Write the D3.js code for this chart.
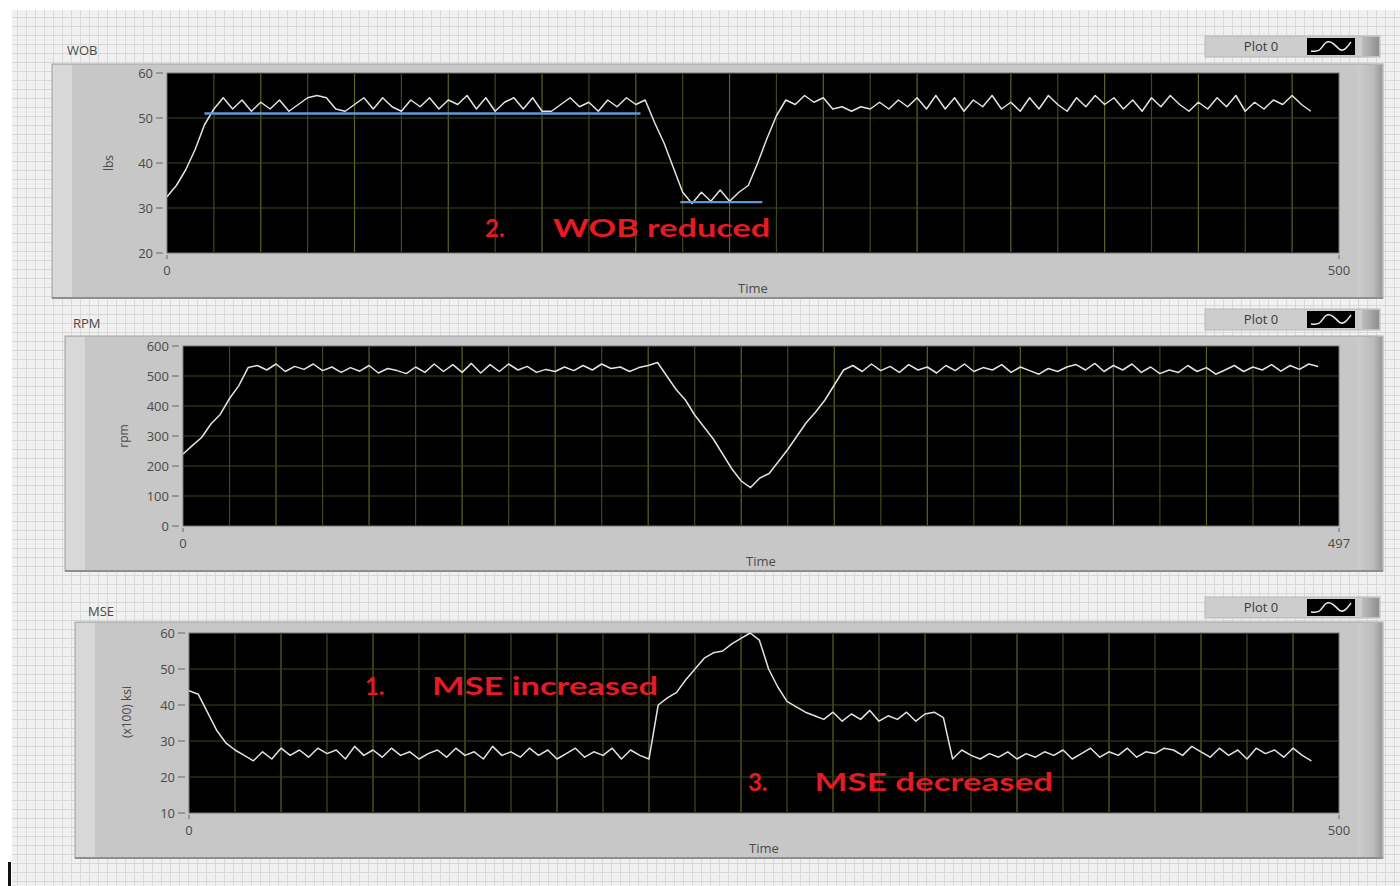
<!DOCTYPE html>
<html>
<head>
<meta charset="utf-8">
<script src="https://cdn.jsdelivr.net/npm/d3@7"></script>
<style>
body{margin:0;background:#fff;}
svg{display:block;}
</style>
</head>
<body>
<div id="chart"></div>
<script>

// all three traces are sampled on the same time grid (every 4 s)
var sampleTimes = d3.range(0, 489, 4)

var wobValues = [32.5,35,38.5,43,48.5,52,54.5,52,54,51.5,
  53.5,52,54,51.5,53,54.5,55,54.5,52,51.5,
  53,54.5,52,54.5,52.5,51.5,54,52.5,54.5,52,
  54,53,55,52,54.5,51.5,53.5,54.5,52,54.5,
  51.5,51.5,53,54.5,52.5,53.5,51.5,54,52.5,54.5,
  53,54,49,44.5,39,33.5,31,33.5,31.5,34,
  31.5,33.5,35,40,45.5,50.5,54,53,55,53.5,
  54.5,52,52.5,51.5,52.5,52,53.5,52,54,52.5,
  54.5,52,55,52,54.5,51.5,54,52.5,55,52,
  53.5,51.5,54.5,52,55,53,51.5,54.5,52.5,55,
  53,54.5,52,54,51.5,54.5,52.5,55,53,51.5,
  53.5,52,54.5,52.5,55,51.5,53.5,52,54,53,
  55,53,51.5]

var rpmValues = [240,268,295,340,372,425,468,528,535,520,
  540,515,532,522,540,518,530,512,528,516,
  535,510,525,518,508,530,512,540,515,538,
  512,542,510,538,515,540,520,532,512,522,
  515,530,518,535,520,540,525,530,515,528,
  535,545,500,455,420,370,330,290,240,190,
  150,128,160,175,215,255,300,345,380,420,
  470,520,535,515,540,518,532,512,538,520,
  530,510,535,518,540,515,528,520,538,512,
  530,518,506,525,515,530,538,520,542,515,
  535,520,540,512,530,508,520,512,535,515,
  528,506,520,535,515,530,520,538,516,535,
  522,540,532]

var mseValues = [44,43,38,33,29.5,27.5,26,24.5,27,25,
  28,26,27.5,25.5,28,26.5,27.5,25,28.5,26,
  27.5,25.5,28,26,27,25,26.5,27.5,25.5,28,
  26,27,25,28.5,26,27,25.5,28,26,27.5,
  25,26.5,28,25.5,27,26,28,25,27.5,26,
  25,40,42,43.5,47,50,53,54.5,55,57,
  58.5,60,58,50,45,41,39.5,38,37,36,
  38,35.5,37.5,36,38.5,35.5,37,36,38,35.5,
  37.5,38,36.5,25,27.5,26,25,26.5,25.5,27,
  25,26.5,25.5,27,26,27.5,25,26.5,28,25.5,
  27,26,28,25.5,27,26.5,28,27.5,26,28.5,
  27,25.5,28,26,27.5,25,28,26.5,27.5,25.5,
  28,26,24.5]

// blue reference lines drawn over the WOB trace: [from, to, level]
var wobTargets = [[16, 202, 51], [219, 254, 31.3]]

var wobTicks = [20, 30, 40, 50, 60]
var rpmTicks = [0, 100, 200, 300, 400, 500, 600]
var mseTicks = [10, 20, 30, 40, 50, 60]

var chartTitles = ["WOB", "RPM", "MSE"]
var yTitles = ["lbs", "rpm", "(x100) ksi"]
var xEnds = [500, 497, 500]
var legendLabel = "Plot 0"

var noteNumbers = ["2.", "1.", "3."]
var notePhrases = ["WOB reduced", "MSE increased", "MSE decreased"]

var W = 1400, H = 886

var svg = d3.select("#chart").append("svg")
  .attr("width", W)
  .attr("height", H)
  .style("font-family", "'Open Sans', sans-serif")

var defs = svg.append("defs")

// labview front panel grid
var pat = defs.append("pattern")
  .attr("id", "bggrid")
  .attr("width", 9).attr("height", 9)
  .attr("patternUnits", "userSpaceOnUse")
pat.append("rect").attr("width", 9).attr("height", 9).attr("fill", "#f0f0f0")
pat.append("path").attr("d", "M8.5 0V9M0 8.5H9")
  .attr("stroke", "#d8d8d8").attr("stroke-width", 1).attr("fill", "none")

var edge = defs.append("linearGradient").attr("id", "edge")
edge.append("stop").attr("offset", "0%").attr("stop-color", "#cdcdcd")
edge.append("stop").attr("offset", "65%").attr("stop-color", "#bcbcbc")
edge.append("stop").attr("offset", "100%").attr("stop-color", "#999")

var legEdge = defs.append("linearGradient").attr("id", "legedge")
legEdge.append("stop").attr("offset", "0%").attr("stop-color", "#bdbdbd")
legEdge.append("stop").attr("offset", "100%").attr("stop-color", "#8f8f8f")

svg.append("rect").attr("width", W).attr("height", H).attr("fill", "#fff")
svg.append("rect")
  .attr("x", 12).attr("y", 10)
  .attr("width", W - 12).attr("height", H - 10)
  .attr("fill", "url(#bggrid)")

// cursor mark at bottom left
svg.append("rect").attr("x", 8).attr("y", 862).attr("width", 3).attr("height", 24).attr("fill", "#111")

var panels = [
  {title: chartTitles[0], yTitle: yTitles[0], values: wobValues, ticks: wobTicks, xMax: xEnds[0],
    titleXY: [67, 55], box: [52, 64, 1383, 298], plot: [167, 73, 1339, 253], legendY: 36, yTitleXY: [113, 163]},
  {title: chartTitles[1], yTitle: yTitles[1], values: rpmValues, ticks: rpmTicks, xMax: xEnds[1],
    titleXY: [73, 328], box: [65, 336, 1383, 571], plot: [183, 346, 1339, 526], legendY: 309, yTitleXY: [128, 436]},
  {title: chartTitles[2], yTitle: yTitles[2], values: mseValues, ticks: mseTicks, xMax: xEnds[2],
    titleXY: [88, 616], box: [75, 622, 1383, 858], plot: [189, 633, 1339, 813], legendY: 597, yTitleXY: [131, 712]}
]

var scales = panels.map(drawPanel)

function drawPanel(p, i) {
  var g = svg.append("g")
  var b = p.box, pl = p.plot

  // panel body
  g.append("rect")
    .attr("x", b[0]).attr("y", b[1])
    .attr("width", b[2] - b[0]).attr("height", b[3] - b[1])
    .attr("fill", "#c7c7c7")
    .attr("stroke", "#a5a5a5")
  g.append("rect")
    .attr("x", b[0] + 1).attr("y", b[1] + 1)
    .attr("width", 19).attr("height", b[3] - b[1] - 2)
    .attr("fill", "#d8d8d8")
  g.append("rect")
    .attr("x", b[2] - 26).attr("y", b[1] + 1)
    .attr("width", 25).attr("height", b[3] - b[1] - 2)
    .attr("fill", "url(#edge)")
  g.append("line")
    .attr("x1", b[0]).attr("x2", b[2])
    .attr("y1", b[3]).attr("y2", b[3])
    .attr("stroke", "#8e8e8e").attr("stroke-width", 2)

  g.append("text")
    .attr("x", p.titleXY[0]).attr("y", p.titleXY[1])
    .attr("font-size", 13)
    .attr("fill", "#4a4a4a")
    .text(p.title)

  var x = d3.scaleLinear().domain([0, p.xMax]).range([pl[0], pl[2]])
  var y = d3.scaleLinear().domain(d3.extent(p.ticks)).range([pl[3], pl[1]])

  g.append("rect")
    .attr("x", pl[0]).attr("y", pl[1])
    .attr("width", pl[2] - pl[0]).attr("height", pl[3] - pl[1])
    .attr("fill", "#000")
    .attr("stroke", "#777")
    .attr("stroke-width", 1)

  // grid
  g.selectAll(".vgrid")
    .data(d3.range(20, p.xMax, 20))
    .enter().append("line")
    .attr("x1", function(d){ return x(d) }).attr("x2", function(d){ return x(d) })
    .attr("y1", pl[1] + 1).attr("y2", pl[3] - 1)
    .attr("stroke", function(d, k){ return k % 2 ? "#5a6420" : "#3f4a1c" })
    .attr("stroke-width", 1.2)
  g.selectAll(".hgrid")
    .data(p.ticks.slice(1, -1))
    .enter().append("line")
    .attr("x1", pl[0] + 1).attr("x2", pl[2] - 1)
    .attr("y1", function(d){ return y(d) }).attr("y2", function(d){ return y(d) })
    .attr("stroke", "#34491f")
    .attr("stroke-width", 1.2)

  // y ticks
  g.selectAll(".ytick")
    .data(p.ticks)
    .enter().append("line")
    .attr("x1", pl[0] - 11).attr("x2", pl[0] - 4)
    .attr("y1", function(d){ return y(d) }).attr("y2", function(d){ return y(d) })
    .attr("stroke", "#666")
  g.selectAll(".ylab")
    .data(p.ticks)
    .enter().append("text")
    .attr("x", pl[0] - 14)
    .attr("y", function(d){ return y(d) + 4.5 })
    .attr("text-anchor", "end")
    .attr("font-size", 13)
    .attr("fill", "#4a4a4a")
    .text(function(d){ return d })

  // x ticks: only the ends are labelled
  g.selectAll(".xlab")
    .data([0, p.xMax])
    .enter().append("text")
    .attr("x", function(d){ return x(d) })
    .attr("y", pl[3] + 22)
    .attr("text-anchor", "middle")
    .attr("font-size", 13)
    .attr("fill", "#4a4a4a")
    .text(function(d){ return d })
  g.selectAll(".xtick")
    .data([0, p.xMax])
    .enter().append("line")
    .attr("x1", function(d){ return x(d) }).attr("x2", function(d){ return x(d) })
    .attr("y1", pl[3] + 2).attr("y2", pl[3] + 6)
    .attr("stroke", "#666")

  g.append("text")
    .attr("x", (pl[0] + pl[2]) / 2)
    .attr("y", pl[3] + 40)
    .attr("text-anchor", "middle")
    .attr("font-size", 13)
    .attr("fill", "#4a4a4a")
    .text("Time")

  g.append("text")
    .attr("transform", "translate(" + p.yTitleXY[0] + "," + p.yTitleXY[1] + ") rotate(-90)")
    .attr("text-anchor", "middle")
    .attr("font-size", 12)
    .attr("fill", "#4a4a4a")
    .text(p.yTitle)

  // legend
  var ly = p.legendY
  var leg = g.append("g")
  leg.append("rect")
    .attr("x", 1205).attr("y", ly).attr("width", 175).attr("height", 21)
    .attr("fill", "#cdcdcd").attr("stroke", "#b8b8b8")
  leg.append("rect")
    .attr("x", 1362).attr("y", ly + 1).attr("width", 17).attr("height", 19)
    .attr("fill", "url(#legedge)")
  leg.append("text")
    .attr("x", 1261).attr("y", ly + 15)
    .attr("text-anchor", "middle")
    .attr("font-size", 13)
    .attr("fill", "#3a3a3a")
    .text(legendLabel)
  leg.append("rect")
    .attr("x", 1307).attr("y", ly + 2).attr("width", 48).attr("height", 17)
    .attr("fill", "#000")
  var wave = d3.line().curve(d3.curveBasis)
  leg.append("path")
    .attr("d", wave([[1311, ly + 15], [1320, ly + 16], [1325, ly + 5], [1333, ly + 6], [1340, ly + 15], [1345, ly + 14], [1351, ly + 6]]))
    .attr("fill", "none")
    .attr("stroke", "#eee")
    .attr("stroke-width", 1.5)

  // trace
  var clipId = "clip" + i
  defs.append("clipPath").attr("id", clipId)
    .append("rect")
    .attr("x", pl[0]).attr("y", pl[1] - 1)
    .attr("width", pl[2] - pl[0]).attr("height", pl[3] - pl[1] + 2)

  var line = d3.line()
    .x(function(d, k){ return x(sampleTimes[k]) })
    .y(function(d){ return y(d) })

  g.append("path")
    .datum(p.values)
    .attr("clip-path", "url(#" + clipId + ")")
    .attr("d", line)
    .attr("fill", "none")
    .attr("stroke", "#e2e2e2")
    .attr("stroke-width", 1.5)
    .attr("stroke-linejoin", "round")

  return {x: x, y: y, g: g}
}

// blue reference lines on the WOB chart
var s0 = scales[0]
s0.g.selectAll(".target")
  .data(wobTargets)
  .enter().append("line")
  .attr("x1", function(d){ return s0.x(d[0]) })
  .attr("x2", function(d){ return s0.x(d[1]) })
  .attr("y1", function(d){ return s0.y(d[2]) })
  .attr("y2", function(d){ return s0.y(d[2]) })
  .attr("stroke", "#5b9bd5")
  .attr("stroke-width", 2.4)

// red notes: [panel, number at, phrase from, phrase to, baseline value]
var notePlaces = [[0, 135.7, 164.7, 257.3, 23.6], [2, 76.5, 105.7, 203.9, 42.8], [2, 243, 272, 375.7, 16.1]]

notePlaces.forEach(function(n, k){
  var s = scales[n[0]]
  s.g.append("text")
    .attr("x", s.x(n[1])).attr("y", s.y(n[4]))
    .attr("font-family", "Lato, sans-serif")
    .attr("font-weight", 700)
    .attr("font-size", 24)
    .attr("fill", "#e31b23")
    .text(noteNumbers[k])
  s.g.append("text")
    .attr("x", s.x(n[2])).attr("y", s.y(n[4]))
    .attr("font-family", "Lato, sans-serif")
    .attr("font-weight", 700)
    .attr("font-size", 24)
    .attr("fill", "#e31b23")
    .attr("textLength", s.x(n[3]) - s.x(n[2]))
    .attr("lengthAdjust", "spacingAndGlyphs")
    .text(notePhrases[k])
})

</script>
</body>
</html>
